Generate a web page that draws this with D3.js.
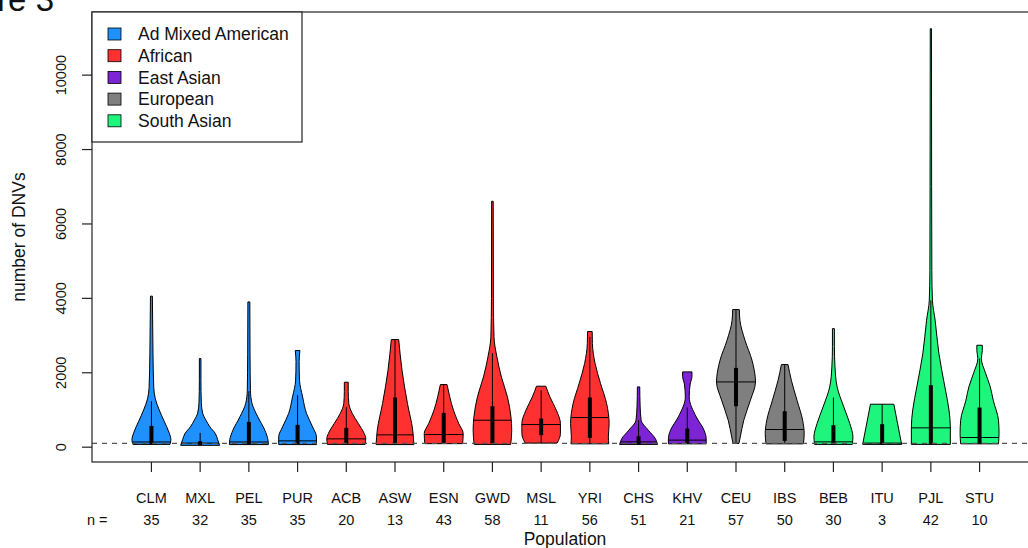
<!DOCTYPE html>
<html><head><meta charset="utf-8">
<script src="https://cdn.jsdelivr.net/npm/d3@7"></script>
<style>body{margin:0;background:#fff} svg{display:block;font-family:"Liberation Sans",Arial,Helvetica,sans-serif}</style>
</head><body><svg id="c" width="1028" height="548"></svg>
<script>
const populations = ["CLM","MXL","PEL","PUR","ACB","ASW","ESN","GWD","MSL","YRI","CHS","KHV","CEU","IBS","BEB","ITU","PJL","STU"];
const superPopulation = ["Ad Mixed American","Ad Mixed American","Ad Mixed American","Ad Mixed American",
  "African","African","African","African","African","African",
  "East Asian","East Asian","European","European",
  "South Asian","South Asian","South Asian","South Asian"];
const sampleCounts = [35,32,35,35,20,13,43,58,11,56,51,21,57,50,30,3,42,10];
const groupNames = ["Ad Mixed American","African","East Asian","European","South Asian"];
const groupColors = ["#1E90FF","#FF3030","#7D24D4","#7F7F7F","#1EF57C"];

const minVals     = [75, 50, 70, 70, 75, 70, 95, 75,110, 90, 75, 90, 100, 90, 75, 75, 75, 90];
const q1Vals      = [85, 60, 80, 85, 90, 85,110,107,325,250, 80,100,1101,170, 80, 80, 80, 95];
const medianVals  = [140,110,140,170,224,331,340,725,609,797,143,190,1754,475,143,110,520,260];
const q3Vals      = [572,160,680,600,520,1335,923,1101,770,1335,295,502,2131,967,591,618,1666,1066];
const whiskerHi   = [1236,385,1505,1397,1083,2893,1684,2525,1530,2964,725,1066,3699,2221,1335,1155,3950,2382];
const maxVals     = [4060,2383,3905,2597,1746,2893,1684,6610,1639,3108,1621,2024,3699,2221,3188,1155,11249,2740];

// [value, relative density]
const densityProfiles = [
  [[75,0.95],[200,1.0],[400,0.9],[700,0.65],[1000,0.4],[1300,0.2],[1600,0.12],[2500,0.08],[3500,0.06],[4060,0.05]],
  [[50,1.0],[200,0.9],[367,0.78],[547,0.5],[725,0.3],[913,0.13],[1200,0.06],[1800,0.04],[2383,0.04]],
  [[70,1.0],[200,0.98],[457,0.82],[815,0.46],[1180,0.16],[1530,0.08],[2500,0.06],[3905,0.05]],
  [[70,0.97],[277,0.97],[547,0.77],[905,0.46],[1350,0.26],[1800,0.1],[2300,0.08],[2597,0.12]],
  [[75,0.97],[233,1.0],[367,0.92],[636,0.62],[905,0.31],[1173,0.13],[1500,0.1],[1746,0.1]],
  [[70,0.97],[457,0.91],[1173,0.64],[2069,0.36],[2893,0.19]],
  [[95,0.97],[367,1.0],[636,0.77],[994,0.5],[1352,0.31],[1684,0.17]],
  [[75,0.94],[457,0.99],[815,0.95],[1352,0.77],[1889,0.46],[2426,0.23],[2964,0.08],[4000,0.05],[6610,0.04]],
  [[110,0.82],[367,0.99],[636,0.99],[994,0.78],[1352,0.45],[1639,0.24]],
  [[90,0.97],[277,0.95],[636,0.99],[1173,0.86],[1711,0.55],[2249,0.27],[2786,0.13],[3108,0.12]],
  [[75,0.97],[233,0.86],[457,0.5],[725,0.13],[1100,0.08],[1621,0.06]],
  [[90,0.97],[233,0.97],[457,0.86],[815,0.46],[1352,0.1],[1700,0.15],[1900,0.24],[2024,0.24]],
  [[100,0.15],[277,0.22],[725,0.4],[1263,0.74],[1754,1.0],[2337,0.82],[2875,0.46],[3412,0.2],[3699,0.17]],
  [[90,0.96],[367,1.0],[725,0.92],[1263,0.63],[1800,0.34],[2221,0.17]],
  [[75,0.97],[277,1.0],[636,0.84],[1083,0.53],[1621,0.19],[2158,0.08],[2700,0.05],[3188,0.05]],
  [[75,1.0],[1155,0.6]],
  [[75,1.0],[545,1.0],[1000,0.93],[1620,0.72],[2525,0.41],[3412,0.22],[3950,0.08],[4750,0.05],[7000,0.04],[11249,0.03]],
  [[90,0.97],[367,1.0],[725,0.97],[1263,0.7],[1620,0.55],[2000,0.3],[2382,0.09],[2600,0.14],[2740,0.14]]
];
const yTicks = [0,2000,4000,6000,8000,10000];
const refLine = 100;

const svg = d3.select("#c");
const L = 92, T = 12, B = 462;
const n = populations.length;
const xpad = 0.04*n;
const x = d3.scaleLinear().domain([0.5 - xpad, n + 0.5 + xpad]).range([L, 1039]);
const lo = d3.min(minVals), hi = d3.max(maxVals), ypad = 0.04*(hi-lo);
const y = d3.scaleLinear().domain([lo - ypad, hi + ypad]).range([B, T]);
const wScale = 0.4*(x(1)-x(0));
const colorOf = d3.scaleOrdinal().domain(groupNames).range(groupColors);

const g = svg.append("g");
populations.forEach((p,i)=>{
  const cx = x(i+1);
  const prof = densityProfiles[i];
  const area = d3.area().curve(d3.curveMonotoneY)
    .y(d=>y(d[0])).x0(d=>cx - d[1]*wScale).x1(d=>cx + d[1]*wScale);
  g.append("path").attr("d", area(prof))
    .attr("fill", colorOf(superPopulation[i])).attr("stroke","#000").attr("stroke-width",1);
  g.append("line").attr("x1",cx).attr("x2",cx).attr("y1",y(minVals[i])).attr("y2",y(whiskerHi[i]))
    .attr("stroke","#000").attr("stroke-width",1);
  g.append("rect").attr("x",cx-2).attr("width",4).attr("y",y(q3Vals[i])).attr("height",y(q1Vals[i])-y(q3Vals[i]))
    .attr("fill","#000");
  const m = medianVals[i];
  let w = prof[0][1];
  for (let k=1;k<prof.length;k++){ if (m<=prof[k][0]) { const a=prof[k-1], b=prof[k]; w = a[1]+(b[1]-a[1])*(m-a[0])/(b[0]-a[0]); break; } }
  g.append("line").attr("x1",cx-w*wScale).attr("x2",cx+w*wScale).attr("y1",y(m)).attr("y2",y(m))
    .attr("stroke","#000").attr("stroke-width",1);
});

svg.append("line").attr("x1",L).attr("x2",1028).attr("y1",y(refLine)).attr("y2",y(refLine))
  .attr("stroke","#555").attr("stroke-width",1.2).attr("stroke-dasharray","5,5");

svg.append("rect").attr("x",L).attr("y",T).attr("width",1039-L).attr("height",B-T)
  .attr("fill","none").attr("stroke","#222").attr("stroke-width",1.2);

const ya = svg.append("g");
yTicks.forEach(t=>{
  ya.append("line").attr("x1",L-10).attr("x2",L).attr("y1",y(t)).attr("y2",y(t)).attr("stroke","#222").attr("stroke-width",1.2);
  ya.append("text").attr("transform",`translate(66,${y(t)}) rotate(-90)`).attr("text-anchor","middle")
    .attr("font-size",14.5).attr("fill","#111").text(t);
});
svg.append("text").attr("transform",`translate(25,237) rotate(-90)`).attr("text-anchor","middle")
  .attr("font-size",17.5).attr("fill","#111").text("number of DNVs");

populations.forEach((p,i)=>{
  const cx = x(i+1);
  svg.append("line").attr("x1",cx).attr("x2",cx).attr("y1",B).attr("y2",B+10).attr("stroke","#222").attr("stroke-width",1.2);
  svg.append("text").attr("x",cx).attr("y",503).attr("text-anchor","middle").attr("font-size",14.5).attr("fill","#111").text(p);
  svg.append("text").attr("x",cx).attr("y",525).attr("text-anchor","middle").attr("font-size",14.5).attr("fill","#111").text(sampleCounts[i]);
});
svg.append("text").attr("x",87).attr("y",525).attr("font-size",14.5).attr("fill","#111").text("n =");
svg.append("text").attr("x",565).attr("y",545).attr("text-anchor","middle").attr("font-size",17.5).attr("fill","#111").text("Population");

svg.append("text").attr("x",54).attr("y",11).attr("text-anchor","end").attr("font-size",33).attr("fill","#111").text("Figure 3");

const lg = svg.append("g");
lg.append("rect").attr("x",L).attr("y",T).attr("width",210).attr("height",130).attr("fill","#fff").attr("stroke","#222").attr("stroke-width",1.2);
groupNames.forEach((gname,k)=>{
  const cy = 34 + k*21.7;
  lg.append("rect").attr("x",108).attr("y",cy-6).attr("width",13).attr("height",12)
    .attr("fill",groupColors[k]).attr("stroke","#000").attr("stroke-width",0.8);
  lg.append("text").attr("x",138).attr("y",cy+6.3).attr("font-size",17.5).attr("fill","#111").text(gname);
});
</script></body></html>
